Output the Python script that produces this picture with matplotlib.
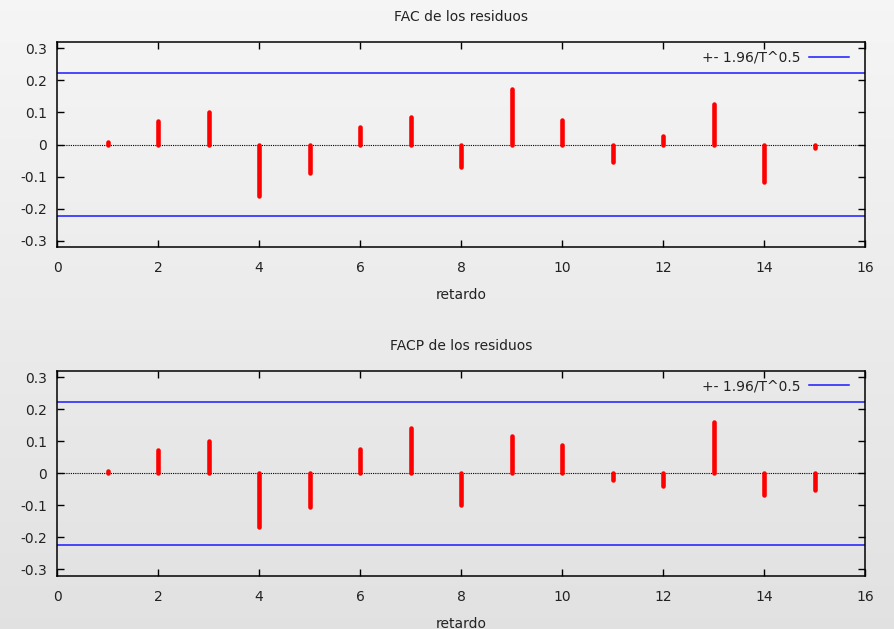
import numpy as np
import matplotlib
matplotlib.use("Agg")
import matplotlib.pyplot as plt

lags = [1, 2, 3, 4, 5, 6, 7, 8, 9, 10, 11, 12, 13, 14, 15]
fac = [0.008, 0.072, 0.100, -0.160, -0.088, 0.054, 0.085, -0.071, 0.173,
       0.076, -0.055, 0.026, 0.125, -0.116, -0.010]
facp = [0.008, 0.073, 0.099, -0.169, -0.104, 0.075, 0.141, -0.098, 0.115,
        0.087, -0.022, -0.041, 0.161, -0.068, -0.052]
band = 0.2227
titles = ["FAC de los residuos", "FACP de los residuos"]
xlabel = "retardo"
legend_label = "+- 1.96/T^0.5"
xticks = [0, 2, 4, 6, 8, 10, 12, 14, 16]
yticks = [-0.3, -0.2, -0.1, 0, 0.1, 0.2, 0.3]
yticklabels = ["-0.3", "-0.2", "-0.1", "0", "0.1", "0.2", "0.3"]

plt.rcParams['font.family'] = ['DejaVu Sans']
fig = plt.figure(figsize=(8.94, 6.29), dpi=100)

# background gradient
bg = fig.add_axes([0, 0, 1, 1], zorder=-10)
grad = np.linspace(0.962, 0.885, 256).reshape(-1, 1)
bg.imshow(np.dstack([grad, grad, grad]), aspect='auto', extent=[0, 1, 0, 1])
bg.axis('off')

positions = [[57/894, 1-247/629, 808/894, 205/629],
             [57/894, 1-575.7/629, 808/894, 205/629]]
data = [fac, facp]
txtc = '#222222'
for pos, vals, title in zip(positions, data, titles):
    ax = fig.add_axes(pos)
    ax.set_facecolor('none')
    ax.axhline(0, color='black', lw=0.8, ls=(0, (1, 1)), zorder=1)
    ax.axhline(band, color='#1a1aff', lw=1.1, label=legend_label, zorder=2)
    ax.axhline(-band, color='#1a1aff', lw=1.1, zorder=2)
    lc = ax.vlines(lags, 0, vals, colors='#ff0000', lw=3.3, zorder=3)
    lc.set_capstyle('round')
    ax.set_xlim(0, 16)
    ax.set_ylim(-0.32, 0.32)
    ax.set_xticks(xticks)
    ax.set_yticks(yticks)
    ax.set_yticklabels(yticklabels)
    ax.tick_params(direction='in', top=True, right=True, length=5, width=1,
                   labelsize=10, labelcolor=txtc)
    ax.tick_params(axis='x', pad=10)
    ax.tick_params(axis='y', pad=7)
    for s in ax.spines.values():
        s.set_linewidth(1.1)
    ax.set_title(title, fontsize=10, color=txtc, pad=15)
    ax.set_xlabel(xlabel, fontsize=10, color=txtc)
    ax.xaxis.set_label_coords(0.5, -0.2)
    leg = ax.legend(loc='upper right', bbox_to_anchor=(0.987, 0.986),
                    frameon=False, fontsize=10,
                    markerfirst=False, handlelength=2.9, borderaxespad=0.0,
                    handletextpad=0.6)
    for t in leg.get_texts():
        t.set_color(txtc)

fig.savefig("out.png", dpi=100)
